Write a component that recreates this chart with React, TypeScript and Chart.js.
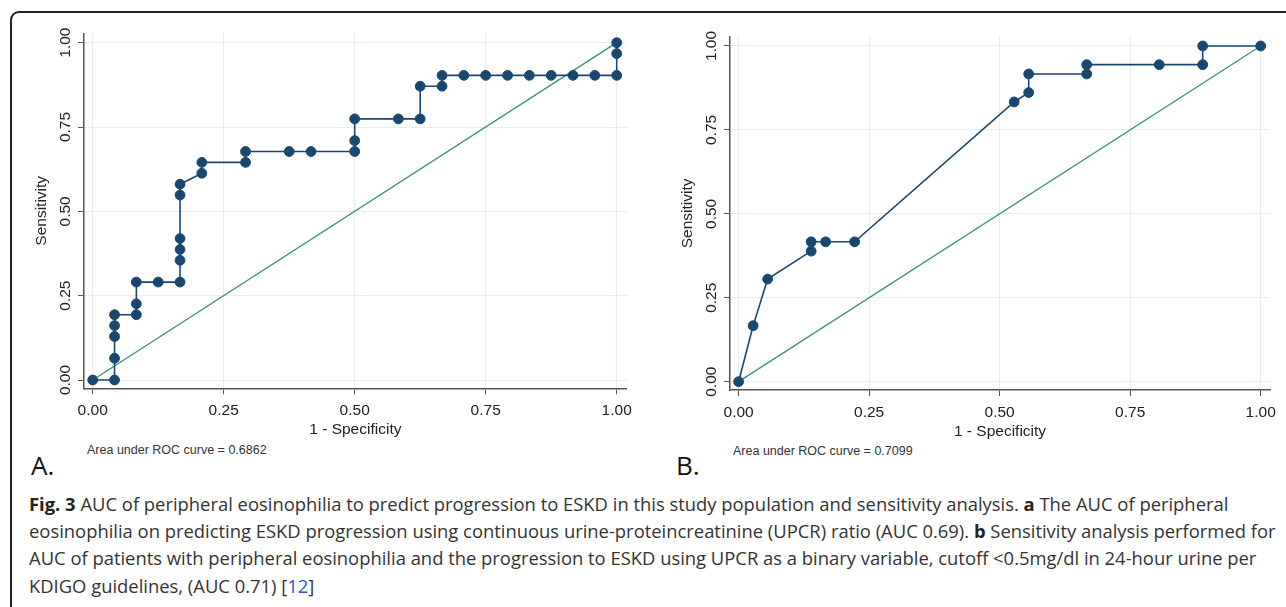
import React, { useEffect, useRef } from "react";
import { Chart, registerables } from "chart.js";

Chart.register(...registerables);

// ---------- data ----------
const tickValues = [0, 0.25, 0.5, 0.75, 1];
const tickLabels = ["0.00", "0.25", "0.50", "0.75", "1.00"];

// Panel A: ROC points (1 - specificity, sensitivity)
const rocAX = [
  0, 0.0417, 0.0417, 0.0417, 0.0417, 0.0417, 0.0833, 0.0833, 0.0833, 0.125,
  0.1667, 0.1667, 0.1667, 0.1667, 0.1667, 0.1667, 0.2083, 0.2083, 0.2917, 0.2917,
  0.375, 0.4167, 0.5, 0.5, 0.5, 0.5833, 0.625, 0.625, 0.6667, 0.6667,
  0.7083, 0.75, 0.7917, 0.8333, 0.875, 0.9167, 0.9583, 1, 1, 1,
];
const rocAY = [
  0, 0, 0.0645, 0.129, 0.1613, 0.1935, 0.1935, 0.2258, 0.2903, 0.2903,
  0.2903, 0.3548, 0.3871, 0.4194, 0.5484, 0.5806, 0.6129, 0.6452, 0.6452, 0.6774,
  0.6774, 0.6774, 0.6774, 0.7097, 0.7742, 0.7742, 0.7742, 0.871, 0.871, 0.9032,
  0.9032, 0.9032, 0.9032, 0.9032, 0.9032, 0.9032, 0.9032, 0.9032, 0.9677, 1,
];

// Panel B: ROC points
const rocBX = [
  0, 0.0278, 0.0556, 0.1389, 0.1389, 0.1667, 0.2222, 0.5278, 0.5556, 0.5556,
  0.6667, 0.6667, 0.8056, 0.8889, 0.8889, 1,
];
const rocBY = [
  0, 0.1667, 0.3056, 0.3889, 0.4167, 0.4167, 0.4167, 0.8333, 0.8611, 0.9167,
  0.9167, 0.9444, 0.9444, 0.9444, 1, 1,
];

// reference (chance) line
const refX = [0, 1];
const refY = [0, 1];

const xTitle = "1 - Specificity";
const yTitle = "Sensitivity";
const aucA = "Area under ROC curve = 0.6862";
const aucB = "Area under ROC curve = 0.7099";

// ---------- styles ----------
const NAVY = "#1a476f";
const GREEN = "#43917a";
const GRID = "#e6eef1";
const AXIS = "#555555";
const TEXT = "#222222";
const FONT = { family: "'Liberation Sans', Arial, sans-serif", size: 15.5 };

type RocProps = {
  xs: number[];
  ys: number[];
  width: number;
  height: number;
  pad: { left: number; top: number; right: number; bottom: number };
  xRange: [number, number];
  yRange: [number, number];
};

function RocChart({ xs, ys, width, height, pad, xRange, yRange }: RocProps) {
  const ref = useRef<HTMLCanvasElement | null>(null);
  useEffect(() => {
    if (!ref.current) return;
    const labelFor = (v: number) => {
      const i = tickValues.findIndex((t) => Math.abs(t - v) < 1e-9);
      return i >= 0 ? tickLabels[i] : "";
    };
    const chart = new Chart(ref.current, {
      type: "scatter",
      data: {
        datasets: [
          {
            data: xs.map((x, i) => ({ x, y: ys[i] })),
            showLine: true,
            borderColor: NAVY,
            backgroundColor: NAVY,
            pointBackgroundColor: NAVY,
            pointBorderColor: NAVY,
            pointRadius: 4.9,
            pointBorderWidth: 1,
            borderWidth: 1.6,
            order: 1,
          },
          {
            data: refX.map((x, i) => ({ x, y: refY[i] })),
            showLine: true,
            borderColor: GREEN,
            backgroundColor: GREEN,
            pointRadius: 0,
            borderWidth: 1.4,
            order: 2,
          },
        ],
      },
      options: {
        animation: false,
        responsive: false,
        events: [],
        layout: { padding: pad },
        plugins: { legend: { display: false }, tooltip: { enabled: false } },
        scales: {
          x: {
            type: "linear",
            min: xRange[0],
            max: xRange[1],
            afterBuildTicks: (s: any) => {
              s.ticks = tickValues.map((v) => ({ value: v }));
            },
            afterFit: (s: any) => {
              s.height = 51;
            },
            ticks: {
              callback: (v: any) => labelFor(Number(v)),
              font: FONT,
              color: TEXT,
              padding: 7,
              maxRotation: 0,
              autoSkip: false,
            },
            grid: { color: GRID, tickColor: AXIS, tickLength: 6, lineWidth: 1 },
            border: { color: AXIS, width: 1.5 },
            title: { display: true, text: xTitle, font: FONT, color: TEXT, padding: 0 },
          },
          y: {
            type: "linear",
            min: yRange[0],
            max: yRange[1],
            afterBuildTicks: (s: any) => {
              s.ticks = tickValues.map((v) => ({ value: v }));
            },
            afterFit: (s: any) => {
              s.width = 84;
            },
            ticks: {
              callback: (v: any) => labelFor(Number(v)),
              font: FONT,
              color: TEXT,
              padding: -3,
              minRotation: 90,
              maxRotation: 90,
              crossAlign: "center",
              autoSkip: false,
            },
            grid: { color: GRID, tickColor: AXIS, tickLength: 6, lineWidth: 1 },
            border: { color: AXIS, width: 1.5 },
            title: {
              display: true,
              text: yTitle,
              font: FONT,
              color: TEXT,
              padding: { top: 32.7, bottom: 0 },
            },
          },
        },
      },
    } as any);
    return () => chart.destroy();
  }, []);
  return <canvas ref={ref} width={width} height={height} style={{ width, height, display: "block" }} />;
}

const captionStyle: React.CSSProperties = {
  position: "absolute",
  left: 29,
  top: 490,
  fontFamily: "'Open Sans', sans-serif",
  fontSize: 18.4,
  lineHeight: "27.2px",
  color: "#333333",
  whiteSpace: "nowrap",
};

export default function App() {
  return (
    <div
      style={{
        position: "absolute",
        left: 0,
        top: 0,
        width: 1286,
        height: 607,
        overflow: "hidden",
        background: "#ffffff",
      }}
    >
      <div
        style={{
          position: "absolute",
          left: 10,
          top: 11,
          width: 1400,
          height: 800,
          border: "2px solid #222",
          borderRadius: 9,
          boxSizing: "border-box",
        }}
      />
      <div style={{ position: "absolute", left: 0, top: 0 }}>
        <RocChart
          xs={rocAX}
          ys={rocAY}
          width={645}
          height={440}
          pad={{ left: 0, top: 33.3, right: 18.3, bottom: 0.7 }}
          xRange={[-0.0166, 1.0191]}
          yRange={[-0.0246, 1.0279]}
        />
      </div>
      <div style={{ position: "absolute", left: 646, top: 0 }}>
        <RocChart
          xs={rocBX}
          ys={rocBY}
          width={640}
          height={442}
          pad={{ left: 0, top: 36.7, right: 16, bottom: 1 }}
          xRange={[-0.0165, 1.0178]}
          yRange={[-0.0247, 1.0277]}
        />
      </div>
      <div style={{ position: "absolute", left: 87, top: 443, font: "12.5px 'Liberation Sans', Arial, sans-serif", color: "#333" }}>
        {aucA}
      </div>
      <div style={{ position: "absolute", left: 733, top: 444, font: "12.5px 'Liberation Sans', Arial, sans-serif", color: "#333" }}>
        {aucB}
      </div>
      <div style={{ position: "absolute", left: 31, top: 447, font: "26px 'Open Sans', sans-serif", color: "#111" }}>A.</div>
      <div style={{ position: "absolute", left: 676, top: 447, font: "26px 'Open Sans', sans-serif", color: "#111" }}>B.</div>
      <div style={captionStyle}>
        <div>
          <b style={{ color: "#222" }}>Fig. 3</b> AUC of peripheral eosinophilia to predict progression to ESKD in this study population and sensitivity analysis. <b style={{ color: "#222" }}>a</b> The AUC of peripheral
        </div>
        <div>
          eosinophilia on predicting ESKD progression using continuous urine-proteincreatinine (UPCR) ratio (AUC 0.69). <b style={{ color: "#222" }}>b</b> Sensitivity analysis performed for
        </div>
        <div>
          AUC of patients with peripheral eosinophilia and the progression to ESKD using UPCR as a binary variable, cutoff &lt;0.5mg/dl in 24-hour urine per
        </div>
        <div>
          KDIGO guidelines, (AUC 0.71) [<span style={{ color: "#2b55c8" }}>12</span>]
        </div>
      </div>
    </div>
  );
}
